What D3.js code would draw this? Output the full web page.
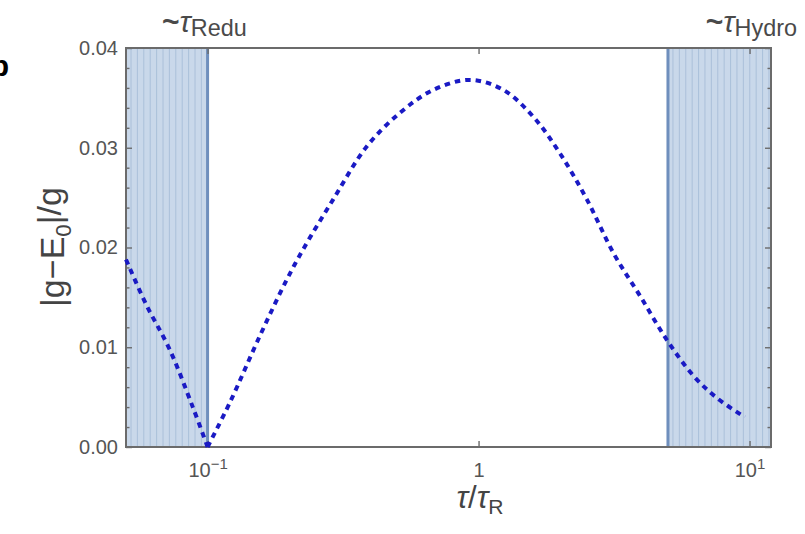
<!DOCTYPE html>
<html>
<head>
<meta charset="utf-8">
<script src="https://cdn.jsdelivr.net/npm/d3@7"></script>
<style>
	body { margin: 0; background: #fff; }
	svg { display: block; font-family: "Liberation Sans", Arial, sans-serif; }
</style>
</head>
<body>
<svg id="chart" width="805" height="534"></svg>
<script>
(function(){
	'use strict';

	var tau = [0.05, 0.0593, 0.0724, 0.0882, 0.1, 0.1206, 0.1557, 0.1954, 0.2251, 0.2905, 0.3861,
		0.5127, 0.6806, 0.93, 1.234, 1.593, 2.001, 2.512, 3.152, 3.954, 4.963, 6.225, 7.59, 9.6];
	var relErr = [0.0188, 0.0143, 0.0098, 0.0040, 0.0, 0.0044, 0.0111, 0.0167, 0.0198, 0.0248, 0.0301,
		0.0335, 0.0358, 0.0368, 0.0358, 0.0331, 0.0294, 0.0248, 0.0194, 0.0151, 0.0107, 0.0071, 0.0049, 0.0030];
	var cuspIndex = 4;

	var shadeRegions = [[0.05, 0.1], [5, 12]];
	var boundaries = [0.1, 5];
	var xDomain = [0.05, 12];
	var yDomain = [0, 0.04];
	var xMajor = [0.1, 1, 10];
	var xTickLabels = [['10', '\u22121'], ['1', ''], ['10', '1']];
	var yMajor = [0, 0.01, 0.02, 0.03, 0.04];

	var grey = '#6b6b6b';
	var svg = d3.select('#chart');
	var left = 126, right = 771, top = 48, bottom = 447;

	var x = d3.scaleLog().domain(xDomain).range([left, right]);
	var y = d3.scaleLinear().domain(yDomain).range([bottom, top]);
	var yMinor = d3.range(0, 0.0401, 0.002).filter(function(v){
		return Math.abs(Math.round(v * 100) - v * 100) > 1e-6;
	});

	// shaded regimes with their faint vertical hatch
	var shade = svg.append('g');
	shadeRegions.forEach(function(r){
		var x0 = x(r[0]), x1 = x(r[1]);
		shade.append('rect')
			.attr('x', x0).attr('y', top)
			.attr('width', x1 - x0).attr('height', bottom - top)
			.attr('fill', '#c9d8ea');
		shade.selectAll(null)
			.data(d3.range(x0 + 5, x1 - 2, 6.4))
			.enter().append('line')
			.attr('x1', function(d){ return d; }).attr('x2', function(d){ return d; })
			.attr('y1', top).attr('y2', bottom)
			.attr('stroke', '#a7bdd8').attr('stroke-width', 0.9);
	});
	shade.selectAll('.bound')
		.data(boundaries)
		.enter().append('line')
		.attr('x1', function(d){ return x(d); }).attr('x2', function(d){ return x(d); })
		.attr('y1', top).attr('y2', bottom)
		.attr('stroke', '#6f8fbd').attr('stroke-width', 3);

	// axes, ticks pointing inward
	function styleAxis(g){
		g.select('.domain').remove();
		g.selectAll('.tick line').attr('stroke', grey).attr('stroke-width', 1.4);
		g.selectAll('.tick text').attr('fill', '#555').attr('font-size', 20)
			.attr('font-family', '"Liberation Sans", Arial, sans-serif');
	}

	svg.append('g').attr('transform', 'translate(' + left + ',0)')
		.call(d3.axisLeft(y).tickValues(yMajor).tickSize(-6).tickPadding(8).tickFormat(d3.format('.2f')))
		.call(styleAxis);
	svg.append('g').attr('transform', 'translate(' + left + ',0)')
		.call(d3.axisLeft(y).tickValues(yMinor).tickSize(-3.5).tickFormat(''))
		.call(styleAxis);
	svg.append('g').attr('transform', 'translate(' + right + ',0)')
		.call(d3.axisRight(y).tickValues(yMajor).tickSize(-6).tickFormat(''))
		.call(styleAxis);
	svg.append('g').attr('transform', 'translate(' + right + ',0)')
		.call(d3.axisRight(y).tickValues(yMinor).tickSize(-3.5).tickFormat(''))
		.call(styleAxis);
	svg.append('g').attr('transform', 'translate(0,' + top + ')')
		.call(d3.axisTop(x).tickValues(xMajor).tickSize(-6).tickFormat(''))
		.call(styleAxis);

	var gx = svg.append('g').attr('transform', 'translate(0,' + bottom + ')')
		.call(d3.axisBottom(x).tickValues(xMajor).tickSize(-6).tickPadding(16).tickFormat(''))
		.call(styleAxis);
	gx.selectAll('.tick text').each(function(d, i){
		var t = d3.select(this);
		t.text(xTickLabels[i][0]);
		if (xTickLabels[i][1]) {
			t.append('tspan').attr('dy', '-0.55em').attr('font-size', '0.75em').text(xTickLabels[i][1]);
		}
	});

	svg.append('rect')
		.attr('x', left).attr('y', top)
		.attr('width', right - left).attr('height', bottom - top)
		.attr('fill', 'none').attr('stroke', grey).attr('stroke-width', 2);

	// dotted curve, drawn as two branches so the cusp at 0.1 stays sharp
	var pts = tau.map(function(t, i){ return [t, relErr[i]]; });
	var line = d3.line()
		.x(function(d){ return x(d[0]); })
		.y(function(d){ return y(d[1]); })
		.curve(d3.curveCatmullRom.alpha(0.5));
	[pts.slice(0, cuspIndex + 1), pts.slice(cuspIndex)].forEach(function(branch){
		svg.append('path')
			.attr('d', line(branch))
			.attr('fill', 'none')
			.attr('stroke', '#1a1ac4')
			.attr('stroke-width', 4)
			.attr('stroke-dasharray', '5.5,5');
	});

	// labels
	var yl = svg.append('text')
		.attr('transform', 'translate(64,247) rotate(-90)')
		.attr('text-anchor', 'middle')
		.attr('font-size', 34).attr('fill', '#444');
	yl.append('tspan').text('|g\u2212E');
	yl.append('tspan').attr('font-size', '0.66em').attr('dy', '0.3em').text('0');
	yl.append('tspan').attr('dy', '-0.3em').text('|/g');

	var xl = svg.append('text')
		.attr('x', 480).attr('y', 508)
		.attr('text-anchor', 'middle')
		.attr('font-size', 31).attr('fill', '#444');
	xl.append('tspan').attr('font-style', 'italic').text('\u03c4');
	xl.append('tspan').text('/');
	xl.append('tspan').attr('font-style', 'italic').text('\u03c4');
	xl.append('tspan').attr('font-size', '0.68em').attr('dy', '0.3em').text('R');

	function regimeLabel(px, anchor, sub){
		var t = svg.append('text')
			.attr('x', px).attr('y', 32)
			.attr('text-anchor', anchor)
			.attr('font-size', 30).attr('fill', '#4a4a4a');
		t.append('tspan').attr('font-weight', 'bold').text('~');
		t.append('tspan').attr('font-style', 'italic').text('\u03c4');
		t.append('tspan').attr('font-size', '0.78em').attr('dy', '0.16em').text(sub);
	}
	regimeLabel(162, 'start', 'Redu');
	regimeLabel(797, 'end', 'Hydro');

	// panel letter cut off at the left edge
	svg.append('text')
		.attr('x', 9).attr('y', 76)
		.attr('text-anchor', 'end')
		.attr('font-size', 30).attr('font-weight', 'bold')
		.text('b');

})();
</script>
</body>
</html>
